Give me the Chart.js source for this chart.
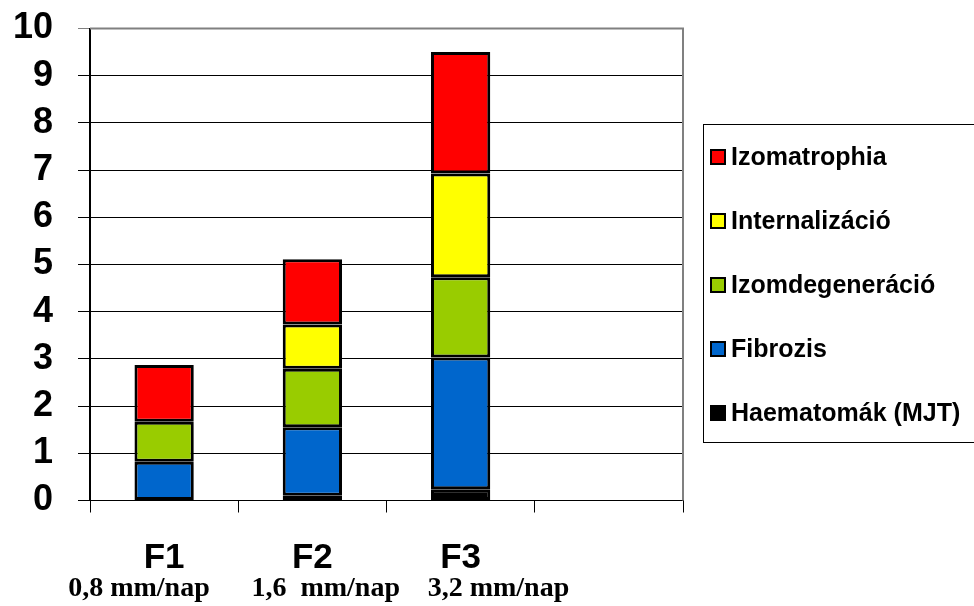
<!DOCTYPE html>
<html>
<head>
<meta charset="utf-8">
<script src="https://cdn.jsdelivr.net/npm/chart.js@4"></script>
<style>
  html, body { margin: 0; padding: 0; background: #fff; }
  #wrap { width: 974px; height: 606px; }
</style>
</head>
<body>
<div id="wrap"><canvas id="chart" width="974" height="606"></canvas></div>
<script>
  // Categories (4th slot is empty in the original)
  let categories = ['F1', 'F2', 'F3', ''];
  let subtitles = ['0,8 mm/nap', '1,6  mm/nap', '3,2 mm/nap', ''];

  // Series, bottom of stack first
  let haematomak = [0, 0.10, 0.24, null];
  let fibrozis = [0.82, 1.45, 2.79, null];
  let izomdegeneracio = [0.85, 1.24, 1.70, null];
  let internalizacio = [0, 0.94, 2.20, null];
  let izomatrophia = [1.20, 1.38, 2.57, null];

  let font_sans = '"Liberation Sans", Arial, sans-serif';
  let font_serif = '"Liberation Serif", "Times New Roman", serif';

  function seg(label, data, color) {
    return {
      label: label,
      data: data,
      backgroundColor: color,
      borderColor: '#000',
      borderWidth: 3,
      borderSkipped: false,
      barPercentage: 0.4,
      categoryPercentage: 1.0
    };
  }

  // Box round the plot area, subtitles, and the legend box
  let extras = {
    id: 'extras',
    afterDraw(chart) {
      let ctx = chart.ctx;
      let area = chart.chartArea;
      let xs = chart.scales.x;

      ctx.save();
      // grey top and right border of the plot area
      ctx.strokeStyle = '#808080';
      ctx.lineWidth = 2;
      ctx.beginPath();
      ctx.moveTo(area.left, area.top);
      ctx.lineTo(area.right, area.top);
      ctx.lineTo(area.right, area.bottom);
      ctx.stroke();

      // subtitles under the category labels
      let sub_shift = [-96, -61, -33, 0];
      ctx.fillStyle = '#000';
      ctx.font = 'bold 28px ' + font_serif;
      ctx.textAlign = 'left';
      ctx.textBaseline = 'alphabetic';
      for (let i = 0; i < subtitles.length; i++) {
        if (!subtitles[i]) continue;
        ctx.fillText(subtitles[i], xs.getPixelForValue(i) + sub_shift[i], 596);
      }

      // legend, top series first
      let lx = 703, ly = 124, lw = 280, lh = 318;
      ctx.strokeStyle = '#000';
      ctx.lineWidth = 1;
      ctx.strokeRect(lx + 0.5, ly + 0.5, lw, lh);
      ctx.font = 'bold 25px ' + font_sans;
      ctx.textBaseline = 'middle';
      let sets = chart.data.datasets.slice().reverse();
      for (let i = 0; i < sets.length; i++) {
        let cy = 157 + i * 64;
        ctx.fillStyle = sets[i].backgroundColor;
        ctx.fillRect(711, cy - 7, 14, 14);
        ctx.strokeStyle = '#000';
        ctx.lineWidth = 2;
        ctx.strokeRect(711, cy - 7, 14, 14);
        ctx.fillStyle = '#000';
        ctx.fillText(sets[i].label, 731, cy + 1);
      }
      ctx.restore();
    }
  };

  new Chart(document.getElementById('chart'), {
    type: 'bar',
    data: {
      labels: categories,
      datasets: [
        seg('Haematomák (MJT)', haematomak, '#000000'),
        seg('Fibrozis', fibrozis, '#0066CC'),
        seg('Izomdegeneráció', izomdegeneracio, '#99CC00'),
        seg('Internalizáció', internalizacio, '#FFFF00'),
        seg('Izomatrophia', izomatrophia, '#FF0000')
      ]
    },
    options: {
      responsive: false,
      animation: false,
      layout: { padding: { top: 28.5, right: 291, left: 0, bottom: 0 } },
      plugins: {
        legend: { display: false },
        tooltip: { enabled: false }
      },
      scales: {
        x: {
          stacked: true,
          afterFit(scale) { scale.height = 105.5; },
          grid: {
            offset: true,
            drawOnChartArea: false,
            drawTicks: true,
            tickLength: 12,
            color: '#000',
            lineWidth: 1
          },
          border: { display: true, color: '#000', width: 1 },
          ticks: {
            color: '#000',
            font: { family: font_sans, size: 35, weight: 'bold' },
            padding: 25
          }
        },
        y: {
          stacked: true,
          min: 0,
          max: 10,
          afterFit(scale) {
            scale.width = 90;
            scale.paddingTop = 0;
            scale.paddingBottom = 0;
          },
          grid: {
            color: (c) => (c.tick && c.tick.value === 10 ? '#808080' : '#000'),
            lineWidth: 1,
            tickLength: 12
          },
          border: { display: true, color: '#000', width: 2 },
          ticks: {
            stepSize: 1,
            autoSkip: false,
            color: '#000',
            font: { family: font_sans, size: 36, weight: 'bold' },
            padding: 25
          }
        }
      }
    },
    plugins: [extras]
  });
</script>
</body>
</html>
